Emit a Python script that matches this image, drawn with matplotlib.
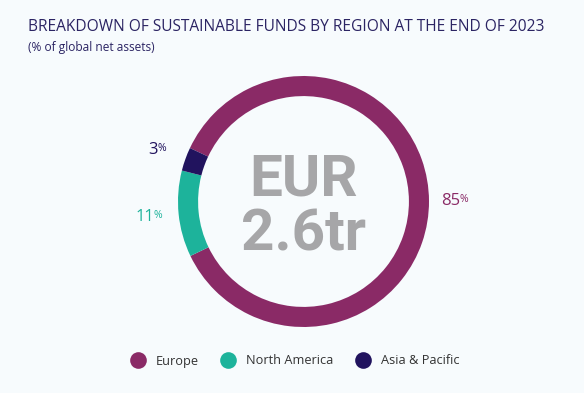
import matplotlib.pyplot as plt
import numpy as np

# Share of global net assets by region, end of 2023
regions = ["Europe", "North America", "Asia & Pacific"]
shares = [85, 11, 3]
colors = ["#8A2A66", "#1DB39B", "#21135E"]
center_text = "EUR\n2.6tr"

bg = "#F7FBFD"
fig = plt.figure(figsize=(5.84, 3.93), dpi=100, facecolor=bg)

fig.text(28 / 584, 1 - 27 / 393, "BREAKDOWN OF SUSTAINABLE FUNDS BY REGION AT THE END OF 2023",
         fontsize=11.2, color="#2B2463", family="Open Sans", fontweight="medium",
         va="center", ha="left")
fig.text(28 / 584, 1 - 47 / 393, "(% of global net assets)",
         fontsize=8.6, color="#2B2463", family="Open Sans", va="center", ha="left")

# donut axes: center (303.5, 201.5) px, radius 125.5 px
ax = fig.add_axes([178 / 584, (393 - 327) / 393, 251 / 584, 251 / 393])
ax.set_facecolor(bg)
wedges, _ = ax.pie(shares, colors=colors, startangle=154.8, counterclock=False,
                   radius=1, wedgeprops=dict(width=0.16, edgecolor="none"))
ax.set_xlim(-1, 1)
ax.set_ylim(-1, 1)
ax.axis("off")

for w, v, c in zip(wedges, shares, colors):
    mid = np.deg2rad((w.theta1 + w.theta2) / 2)
    x, y = 1.22 * np.cos(mid), 1.22 * np.sin(mid)
    t = ax.text(x - 0.05, y, str(v), fontsize=12, color=c, family="Open Sans",
                ha="center", va="center", clip_on=False)
    ax.annotate("%", xy=(0.97, 0.92), xycoords=t, fontsize=7.5, color=c,
                family="Open Sans", ha="left", va="top", annotation_clip=False)

ax.text(0, -0.05, center_text, fontsize=42, fontweight="bold", color="#A6A6A8",
        family="Roboto", ha="center", va="center", linespacing=1.0)

# legend
handles = [plt.Line2D([], [], marker="o", linestyle="none", markersize=12,
                      markerfacecolor=c, markeredgecolor="none") for c in colors]
leg = fig.legend(handles, regions, loc="center", bbox_to_anchor=(294 / 584, 1 - 361 / 393),
                 ncol=3, frameon=False, handletextpad=0.7, columnspacing=1.6,
                 handlelength=1.4, prop=dict(family="Open Sans", size=9.2))
for txt in leg.get_texts():
    txt.set_color("#333333")

fig.savefig("out.png", dpi=100, facecolor=bg)
